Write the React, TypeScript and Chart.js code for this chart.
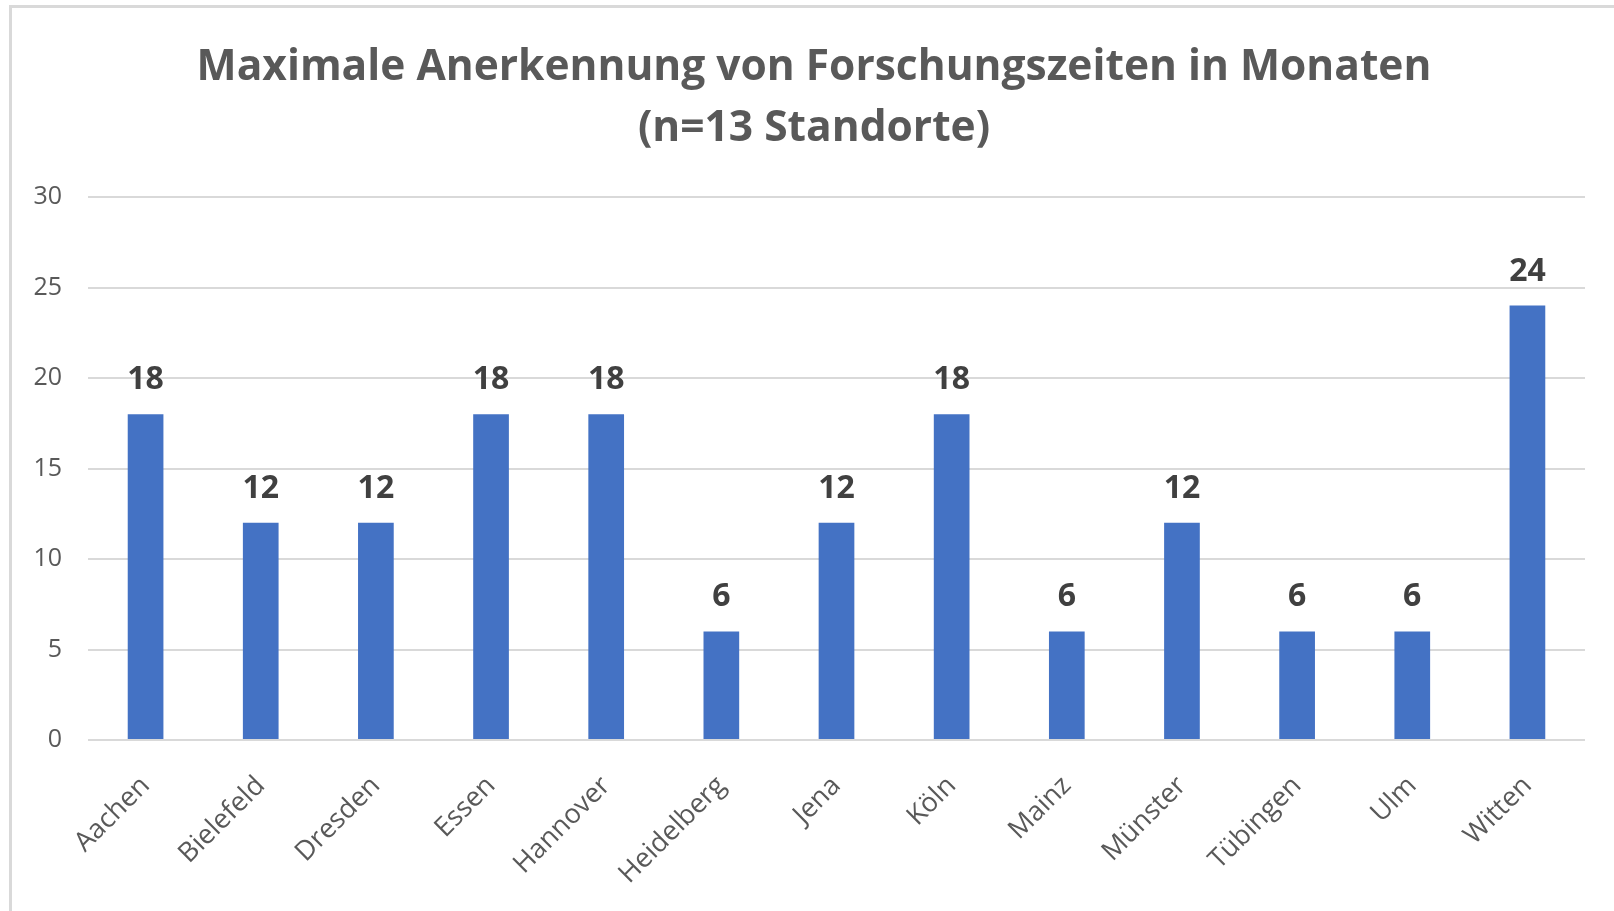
import React, { useEffect, useRef } from "react";
import { Chart, registerables } from "chart.js";

Chart.register(...registerables);

const categories = ["Aachen", "Bielefeld", "Dresden", "Essen", "Hannover", "Heidelberg", "Jena", "Köln", "Mainz", "Münster", "Tübingen", "Ulm", "Witten"];
const months = [18, 12, 12, 18, 18, 6, 12, 18, 6, 12, 6, 6, 24];
const titleLines = ["Maximale Anerkennung von Forschungszeiten in Monaten", "(n=13 Standorte)"];
const yMin = 0;
const yMax = 30;
const yStep = 5;

const FONT = "'Open Sans', 'DejaVu Sans', sans-serif";

const titlePlugin = {
  id: "customTitle",
  afterDraw(chart: any) {
    const ctx = chart.ctx;
    ctx.save();
    ctx.font = `bold 42.5px ${FONT}`;
    ctx.fillStyle = "#595959";
    ctx.textAlign = "center";
    ctx.textBaseline = "middle";
    const cx = 814;
    titleLines.forEach((line, i) => {
      ctx.fillText(line, cx, 68 + i * 61);
    });
    ctx.restore();
  },
};

const dataLabelPlugin = {
  id: "dataLabels",
  afterDatasetsDraw(chart: any) {
    const ctx = chart.ctx;
    const meta = chart.getDatasetMeta(0);
    const data = chart.data.datasets[0].data;
    ctx.save();
    ctx.font = `bold 32px ${FONT}`;
    ctx.fillStyle = "#404040";
    ctx.textAlign = "center";
    ctx.textBaseline = "alphabetic";
    meta.data.forEach((bar: any, i: number) => {
      ctx.fillText(String(data[i]), bar.x, bar.y - 25);
    });
    ctx.restore();
  },
};

export default function App() {
  const canvasRef = useRef<HTMLCanvasElement | null>(null);

  useEffect(() => {
    if (!canvasRef.current) return;
    const chart = new Chart(canvasRef.current, {
      type: "bar",
      data: {
        labels: categories,
        datasets: [
          {
            data: months,
            backgroundColor: "#4472C4",
            borderWidth: 0,
            categoryPercentage: 1,
            barPercentage: 0.31,
          },
        ],
      },
      options: {
        animation: false,
        responsive: false,
        maintainAspectRatio: false,
        layout: { padding: { left: 0, right: 29, top: 197, bottom: 0 } },
        plugins: {
          legend: { display: false },
          tooltip: { enabled: false },
          title: { display: false },
        },
        scales: {
          x: {
            grid: { display: false, drawTicks: false },
            border: { display: false },
            ticks: {
              color: "#595959",
              font: { family: FONT, size: 27 },
              maxRotation: 45,
              minRotation: 45,
              padding: 30,
              autoSkip: false,
            },
            afterFit(scale: any) {
              scale.height = 171;
            },
          },
          y: {
            min: yMin,
            max: yMax,
            grid: { color: "#d9d9d9", lineWidth: 2, drawTicks: false },
            border: { display: false },
            ticks: {
              stepSize: yStep,
              color: "#595959",
              font: { family: FONT, size: 25 },
              padding: 26,
            },
            afterFit(scale: any) {
              scale.width = 88;
            },
          },
        },
      },
      plugins: [dataLabelPlugin, titlePlugin],
    });
    return () => chart.destroy();
  }, []);

  return (
    <div style={{ position: "fixed", left: 0, top: 0, width: 1614, height: 911, background: "#fff" }}>
      <div
        style={{
          position: "absolute",
          left: 9,
          top: 5,
          width: 1614,
          height: 911,
          borderLeft: "3px solid #d9d9d9",
          borderTop: "3px solid #d9d9d9",
          boxSizing: "border-box",
        }}
      />
      <canvas ref={canvasRef} width={1614} height={911} style={{ position: "absolute", left: 0, top: 0 }} />
    </div>
  );
}
